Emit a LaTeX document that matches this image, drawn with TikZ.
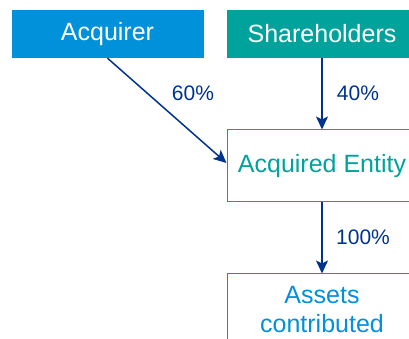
\documentclass[tikz,border=0pt]{standalone}
\usepackage{fontspec}
\setmainfont{Liberation Sans}
\usetikzlibrary{arrows.meta}

\definecolor{lightblue}{HTML}{0091DA}
\definecolor{teal}{HTML}{00A39B}
\definecolor{darkblue}{HTML}{00338D}

\begin{document}
\begin{tikzpicture}[x=1pt,y=1pt,
    fillbox/.style={draw=none, minimum width=192pt, minimum height=48pt, text=white,
        font=\fontsize{25}{29}\selectfont, inner sep=0pt},
    linebox/.style={draw, fill=white, line width=1pt, minimum width=190pt, minimum height=72pt,
        font=\fontsize{25}{29}\selectfont, align=center, inner sep=0pt},
    link/.style={darkblue, line width=1.5pt, -{Stealth[length=13pt, width=12pt, inset=3pt]}},
    pct/.style={text=darkblue, font=\fontsize{21}{24}\selectfont}]

    % Fix the frame of the picture
    \useasboundingbox (0,0) rectangle (409,339);
    \clip (0,0) rectangle (409,339);

    % Draw the owners
    \node[fillbox, fill=lightblue] (acquirer) at (107.5,305) {Acquirer};
    \node[fillbox, fill=teal, minimum width=190pt] (holders) at (322,305) {Shareholders};

    % Draw the entity and its assets
    \node[linebox, draw=teal, text=teal] (entity) at (322,173) {Acquired Entity};
    \node[linebox, draw=lightblue, text=lightblue] (assets) at (322,29) {Assets\\contributed};

    % Draw the ownership arrows
    \draw[link] (acquirer.south) -- ([yshift=3pt]entity.west);
    \draw[link] (holders.south) -- (entity.north);
    \draw[link] (entity.south) -- (assets.north);

    % Add the percentages
    \node[pct] (p60) at (193,246) {60\%};
    \node[pct] (p40) at (358,246) {40\%};
    \node[pct] (p100) at (363,102) {100\%};

\end{tikzpicture}
\end{document}
